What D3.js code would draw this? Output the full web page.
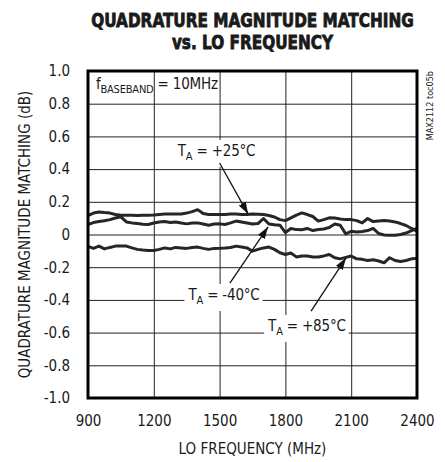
<!DOCTYPE html>
<html>
<head>
<meta charset="utf-8">
<script src="https://cdn.jsdelivr.net/npm/d3@7"></script>
<style>
  body { margin: 0; background: #fff; }
  svg { display: block; }
  text { font-family: "Liberation Sans Narrow", "Arial Narrow", "DejaVu Sans Condensed", sans-serif; fill: #1a1a1a; }
</style>
</head>
<body>
<div id="chart"></div>
<script>
// LO frequency (MHz), one reading every 25 MHz
const freqs = [900, 925, 950, 975, 1000, 1025, 1050, 1075, 1100, 1125, 1150, 1175, 1200, 1225, 1250, 1275,
  1300, 1325, 1350, 1375, 1400, 1425, 1450, 1475, 1500, 1525, 1550, 1575, 1600, 1625, 1650, 1675,
  1700, 1725, 1750, 1775, 1800, 1825, 1850, 1875, 1900, 1925, 1950, 1975, 2000, 2025, 2050, 2075,
  2100, 2125, 2150, 2175, 2200, 2225, 2250, 2275, 2300, 2325, 2350, 2375, 2400];

// magnitude matching (dB)
const taPlus25 = [0.116, 0.131, 0.138, 0.134, 0.131, 0.122, 0.118, 0.118, 0.118, 0.116, 0.118, 0.118, 0.119, 0.122, 0.125, 0.126,
  0.126, 0.125, 0.131, 0.140, 0.152, 0.128, 0.122, 0.122, 0.122, 0.122, 0.125, 0.126, 0.122, 0.122, 0.125, 0.124,
  0.122, 0.116, 0.107, 0.091, 0.085, 0.102, 0.119, 0.132, 0.122, 0.110, 0.082, 0.091, 0.102, 0.101, 0.095, 0.091,
  0.091, 0.085, 0.071, 0.098, 0.079, 0.082, 0.085, 0.082, 0.077, 0.067, 0.055, 0.037, 0.021];
const taMinus40 = [0.061, 0.073, 0.079, 0.084, 0.091, 0.101, 0.108, 0.077, 0.071, 0.067, 0.063, 0.061, 0.070, 0.076, 0.079, 0.073,
  0.077, 0.070, 0.065, 0.070, 0.071, 0.064, 0.057, 0.064, 0.065, 0.061, 0.071, 0.082, 0.076, 0.070, 0.064, 0.067,
  0.098, 0.064, 0.059, 0.057, 0.012, 0.037, 0.030, 0.029, 0.037, 0.024, 0.030, 0.034, 0.043, 0.064, 0.057, 0.004,
  0.020, 0.015, 0.018, 0.024, 0.037, 0.006, -0.003, -0.004, -0.004, 0.000, 0.009, 0.024, 0.037];
const taPlus85 = [-0.073, -0.085, -0.071, -0.088, -0.079, -0.071, -0.070, -0.071, -0.082, -0.091, -0.095, -0.098, -0.098, -0.091, -0.082, -0.088,
  -0.079, -0.082, -0.085, -0.079, -0.077, -0.085, -0.091, -0.085, -0.084, -0.082, -0.079, -0.071, -0.076, -0.082, -0.102, -0.091,
  -0.082, -0.077, -0.091, -0.112, -0.122, -0.113, -0.137, -0.131, -0.132, -0.137, -0.138, -0.131, -0.122, -0.142, -0.149, -0.140,
  -0.132, -0.149, -0.152, -0.159, -0.155, -0.162, -0.173, -0.142, -0.159, -0.165, -0.159, -0.149, -0.146];

const xTicks = [900, 1200, 1500, 1800, 2100, 2400];
const yTicks = [1.0, 0.8, 0.6, 0.4, 0.2, 0, -0.2, -0.4, -0.6, -0.8, -1.0];
const yTickLabels = ["1.0", "0.8", "0.6", "0.4", "0.2", "0", "-0.2", "-0.4", "-0.6", "-0.8", "-1.0"];

// temperature callouts: label anchor and arrow, in data units
const callouts = [
  { sub: "A", rest: " = +25°C", f: 1486, v: 0.480, from: [1500, 0.437], to: [1630, 0.125] },
  { sub: "A", rest: " = -40°C", f: 1520, v: -0.401, from: [1547, -0.297], to: [1721, 0.046] },
  { sub: "A", rest: " = +85°C", f: 1898, v: -0.590, from: [1917, -0.468], to: [2076, -0.144] }
];

const width = 445, height = 462;
const margin = { top: 71, right: 28, bottom: 64, left: 88 };
const w = width - margin.left - margin.right;
const h = height - margin.top - margin.bottom;

const svg = d3.select('#chart').append('svg')
  .attr('width', width)
  .attr('height', height);

// arrow head
svg.append('defs').append('marker')
  .attr('id', 'head')
  .attr('markerUnits', 'userSpaceOnUse')
  .attr('viewBox', '0 0 12 8')
  .attr('refX', 12).attr('refY', 4)
  .attr('markerWidth', 12).attr('markerHeight', 8)
  .attr('orient', 'auto')
  .append('path')
  .attr('d', 'M0,0 L12,4 L0,8 Z')
  .attr('fill', '#111');

// title - squeezed horizontally to get the tall condensed look
const title = svg.append('g')
  .attr('font-weight', 'bold')
  .attr('transform', `translate(${margin.left + w / 2},0) scale(0.85,1)`);
['QUADRATURE MAGNITUDE MATCHING', 'vs. LO FREQUENCY'].forEach((t, i) => {
  title.append('text')
    .attr('x', 0)
    .attr('y', 27 + i * 22)
    .attr('text-anchor', 'middle')
    .attr('font-size', '20px')
    .style('stroke', '#1a1a1a')
    .style('stroke-width', '0.8px')
    .text(t);
});

const g = svg.append('g')
  .attr('transform', `translate(${margin.left},${margin.top})`);

const x = d3.scaleLinear().domain([900, 2400]).range([0, w]);
const y = d3.scaleLinear().domain([-1, 1]).range([h, 0]);

// grid + tick labels
const xAxis = g.append('g')
  .attr('transform', `translate(0,${h})`)
  .call(d3.axisBottom(x).tickValues(xTicks).tickSize(-h).tickPadding(17).tickFormat(d3.format('d')));
const yAxis = g.append('g')
  .call(d3.axisLeft(y).tickValues(yTicks).tickSize(-w).tickPadding(18)
    .tickFormat((d, i) => yTickLabels[i]));

[xAxis, yAxis].forEach(a => {
  a.select('.domain').remove();
  a.selectAll('.tick line').attr('stroke', '#222').attr('stroke-width', 1);
  a.selectAll('.tick text')
    .attr('font-size', '15px')
    .attr('font-family', '"Liberation Sans Narrow", "Arial Narrow", "DejaVu Sans Condensed", sans-serif')
    .attr('fill', '#1a1a1a');
});

// callout labels (white box hides the grid behind them)
const labelLayer = g.append('g');
callouts.forEach(c => {
  const lg = labelLayer.append('g');
  const bg = lg.append('rect').attr('fill', '#fff');
  const t = lg.append('text')
    .attr('x', x(c.f))
    .attr('y', y(c.v))
    .attr('text-anchor', 'middle')
    .attr('font-size', '15px')
    .attr('letter-spacing', '-0.2px');
  t.append('tspan').text('T');
  t.append('tspan').attr('dy', 4).attr('font-size', '11px').text(c.sub);
  t.append('tspan').attr('dy', -4).text(c.rest);
  const bb = t.node().getBBox();
  bg.attr('x', bb.x - 3).attr('y', bb.y - 2)
    .attr('width', bb.width + 6).attr('height', bb.height + 6);
});

// curves
const line = d3.line()
  .x((d, i) => x(freqs[i]))
  .y(d => y(d));

[taPlus25, taMinus40, taPlus85].forEach(series => {
  g.append('path')
    .datum(series)
    .attr('fill', 'none')
    .attr('stroke', '#262626')
    .attr('stroke-width', 3)
    .attr('stroke-linejoin', 'round')
    .attr('d', line);
});

// arrows
callouts.forEach(c => {
  g.append('line')
    .attr('x1', x(c.from[0])).attr('y1', y(c.from[1]))
    .attr('x2', x(c.to[0])).attr('y2', y(c.to[1]))
    .attr('stroke', '#111')
    .attr('stroke-width', 1.3)
    .attr('marker-end', 'url(#head)');
});

// condition note
const note = g.append('text')
  .attr('x', x(936))
  .attr('y', y(0.89))
  .attr('font-size', '15px')
  .attr('letter-spacing', '-0.2px');
note.append('tspan').text('f');
note.append('tspan').attr('dy', 4).attr('font-size', '11px').text('BASEBAND');
note.append('tspan').attr('dy', -4).text(' = 10MHz');

// frame
g.append('rect')
  .attr('width', w)
  .attr('height', h)
  .attr('fill', 'none')
  .attr('stroke', '#000')
  .attr('stroke-width', 3);

// axis titles
svg.append('text')
  .attr('x', margin.left + w / 2)
  .attr('y', 454)
  .attr('text-anchor', 'middle')
  .attr('font-size', '15px')
  .text('LO FREQUENCY (MHz)');

svg.append('text')
  .attr('transform', `translate(30,${margin.top + h / 2}) rotate(-90)`)
  .attr('text-anchor', 'middle')
  .attr('font-size', '15px')
  .text('QUADRATURE MAGNITUDE MATCHING (dB)');

// part number tag
svg.append('text')
  .attr('transform', `translate(433,${margin.top}) rotate(-90)`)
  .attr('text-anchor', 'end')
  .attr('font-size', '9px')
  .text('MAX2112 toc05b');
</script>
</body>
</html>
